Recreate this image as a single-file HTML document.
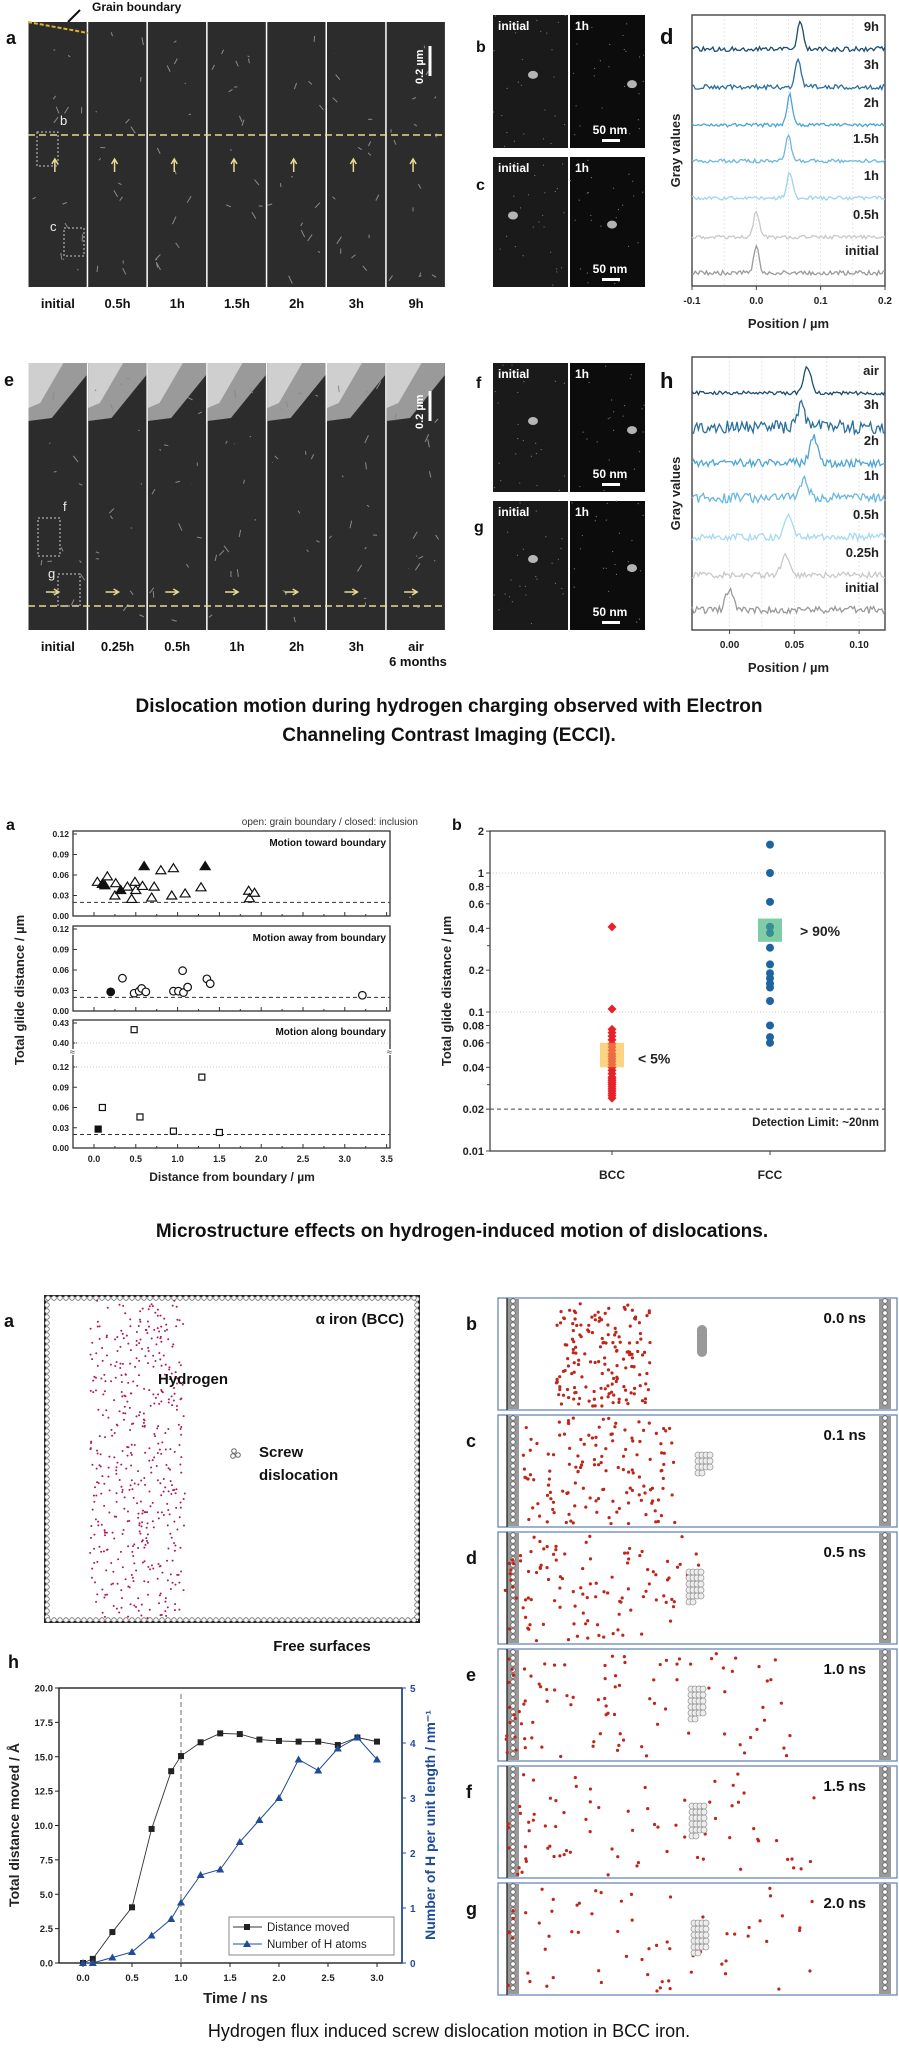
<!DOCTYPE html>
<html><head><meta charset="utf-8">
<style>
html,body{margin:0;padding:0;background:#fff;}
svg{display:block;font-family:"Liberation Sans",Arial,sans-serif;}
</style></head>
<body>
<svg id="fig" width="899" height="2058" viewBox="0 0 899 2058" xmlns="http://www.w3.org/2000/svg">
<!-- captions -->
<text x="449" y="712" text-anchor="middle" font-size="19" font-weight="bold" fill="#111">Dislocation motion during hydrogen charging observed with Electron</text>
<text x="449" y="741" text-anchor="middle" font-size="19" font-weight="bold" fill="#111">Channeling Contrast Imaging (ECCI).</text>
<text x="462" y="1237" text-anchor="middle" font-size="19" font-weight="bold" fill="#111">Microstructure effects on hydrogen-induced motion of dislocations.</text>
<text x="449" y="2037" text-anchor="middle" font-size="18" fill="#111">Hydrogen flux induced screw dislocation motion in BCC iron.</text>

<!-- section 1 static labels -->
<text x="92" y="11" font-size="12" font-weight="bold" fill="#111">Grain boundary</text>
<path d="M80,10 L68,22" stroke="#111" stroke-width="2"/>
<text x="6" y="44" font-size="18" font-weight="bold" fill="#111">a</text>
<text x="4" y="386" font-size="18" font-weight="bold" fill="#111">e</text>
<text x="476" y="52" font-size="16" font-weight="bold" fill="#111">b</text>
<text x="476" y="190" font-size="16" font-weight="bold" fill="#111">c</text>
<text x="476" y="388" font-size="16" font-weight="bold" fill="#111">f</text>
<text x="474" y="532" font-size="16" font-weight="bold" fill="#111">g</text>
<text x="660" y="44" font-size="22" font-weight="bold" fill="#111">d</text>
<text x="660" y="388" font-size="22" font-weight="bold" fill="#111">h</text>

<!-- section 2 static -->
<text x="6" y="830" font-size="16" font-weight="bold" fill="#111">a</text>
<text x="418" y="825" font-size="10" fill="#333" text-anchor="end">open: grain boundary / closed: inclusion</text>
<text x="452" y="830" font-size="16" font-weight="bold" fill="#111">b</text>

<!-- section 3 static -->
<text x="4" y="1327" font-size="18" font-weight="bold" fill="#111">a</text>
<text x="8" y="1668" font-size="18" font-weight="bold" fill="#111">h</text>
<text x="322" y="1651" text-anchor="middle" font-size="15" font-weight="bold" fill="#111">Free surfaces</text>

<g id="layer"></g>
</svg>

<script>
var NS='http://www.w3.org/2000/svg';
var layer=document.getElementById('layer');
function mk(tag,attrs,parent){var e=document.createElementNS(NS,tag);for(var k in attrs)e.setAttribute(k,attrs[k]);(parent||layer).appendChild(e);return e;}
function txt(s,attrs,parent){var e=mk('text',attrs,parent);e.textContent=s;return e;}
var seed=12345;
function rnd(){seed|=0;seed=seed+0x6D2B79F5|0;var t=Math.imul(seed^seed>>>15,1|seed);t=t+Math.imul(t^t>>>7,61|t)^t;return((t^t>>>14)>>>0)/4294967296;}

/* ---------- Section 1 micrographs ---------- */
var topTimes=['initial','0.5h','1h','1.5h','2h','3h','9h'];
var botTimes=['initial','0.25h','0.5h','1h','2h','3h','air'];
function micro(x,y,w,h,bright,name){
  var g=mk('g',{});
  
  
  mk('rect',{x:x,y:y,width:w,height:h,fill:'#2c2c2c'},g);
  if(bright){mk('polygon',{points:(x)+','+(y)+' '+(x+w)+','+(y)+' '+(x+w)+','+(y+12)+' '+(x+w*0.4)+','+(y+55)+' '+x+','+(y+58),fill:'#9a9a9a'},g);
             mk('polygon',{points:(x)+','+(y)+' '+(x+w*0.6)+','+(y)+' '+(x+w*0.2)+','+(y+40)+' '+x+','+(y+45),fill:'#cfcfcf'},g);}
  for(var i=0;i<14;i++){var sx=x+4+rnd()*(w-8),sy=y+10+rnd()*(h-20);
    mk('path',{d:'M'+sx+','+sy+' l'+(rnd()*10-5)+','+(rnd()*10-2),stroke:'#8a8a8a','stroke-width':1,fill:'none'},g);}
  return g;
}
var pw=59.7;
for(var i=0;i<7;i++){
  var x=28+i*pw;
  micro(x+0.5,22,pw-1.5,265,false,'ecci-image-'+topTimes[i]);
  var a=mk('path',{d:'M'+(x+pw*0.45)+',172 l0,-12 m-3,4 l3,-5 l3,5',stroke:'#e8d890','stroke-width':1.5,fill:'none'});
  
  
  var t=txt(topTimes[i],{x:x+pw/2,y:308,'text-anchor':'middle','font-size':13,'font-weight':'bold',fill:'#111'});
  
  
  micro(x+0.5,363,pw-1.5,267,true,'ecci-image-e-'+botTimes[i]);
  var a2=mk('path',{d:'M'+(x+pw*0.3)+',592 l12,0 m-4,-3 l5,3 l-5,3',stroke:'#e8d890','stroke-width':1.5,fill:'none'});
  
  
  var t2=txt(botTimes[i],{x:x+pw/2,y:651,'text-anchor':'middle','font-size':13,'font-weight':'bold',fill:'#111'});
  
  
}
var m6=txt('6 months',{x:418,y:666,'text-anchor':'middle','font-size':13,'font-weight':'bold',fill:'#111'});


var gb=mk('path',{d:'M28,22 L88,33',stroke:'#e0b030','stroke-width':2,'stroke-dasharray':'4,2'});


var dl1=mk('line',{x1:28,y1:135,x2:446,y2:135,stroke:'#e8d890','stroke-width':1.5,'stroke-dasharray':'7,4'});


var dl2=mk('line',{x1:28,y1:606,x2:446,y2:606,stroke:'#e8d890','stroke-width':1.5,'stroke-dasharray':'7,4'});


[[37,132,21,34,'inset-box-b'],[64,228,20,28,'inset-box-c'],[38,518,22,38,'inset-box-f'],[58,574,22,32,'inset-box-g']].forEach(function(b){
  var r=mk('rect',{x:b[0],y:b[1],width:b[2],height:b[3],fill:'none',stroke:'#ccc','stroke-width':1,'stroke-dasharray':'2,2'});
  
  
});
[['b',60,125],['c',50,231],['f',63,511],['g',48,578]].forEach(function(l){
  var t=txt(l[0],{x:l[1],y:l[2],'font-size':13,fill:'#eee'});
  
  
});
// scale bars
[[420,50,'0.2 µm'],[420,395,'0.2 µm']].forEach(function(s){
  var l=mk('line',{x1:s[0]+10,y1:s[1]-4,x2:s[0]+10,y2:s[1]+26,stroke:'#fff','stroke-width':3});
  
  
  var t=txt(s[2],{x:0,y:0,'font-size':11,'font-weight':'bold',fill:'#fff',transform:'translate('+(s[0]+3)+','+(s[1]+34)+') rotate(-90)'});
  
  
});
// b,c,f,g insets
[['b',15,133],['c',157,130],['f',363,129],['g',501,129]].forEach(function(p){
  ['initial','1h'].forEach(function(lbl,j){
    var x=493+j*77,w=75;
    var g=mk('g',{});
    
    
    mk('rect',{x:x,y:p[1],width:w,height:p[2],fill:j?'#0c0c0c':'#1a1a1a'},g);
    for(var k=0;k<25;k++)mk('circle',{cx:x+rnd()*w,cy:p[1]+rnd()*p[2],r:0.6,fill:'#777'},g);
    mk('ellipse',{cx:x+(j?62:40)-(p[0]=='c'?20:0),cy:p[1]+p[2]*(j?0.52:0.45),rx:5,ry:4,fill:'#ddd',opacity:0.8},g);
    txt(lbl,{x:x+5,y:p[1]+15,'font-size':12,'font-weight':'bold',fill:'#fff'},g);
    if(j){txt('50 nm',{x:x+40,y:p[1]+p[2]-14,'text-anchor':'middle','font-size':12,'font-weight':'bold',fill:'#fff'},g);
          mk('rect',{x:x+32,y:p[1]+p[2]-9,width:18,height:3,fill:'#fff'},g);}
  });
});

/* ---------- Section 1 line-profile charts d & h ---------- */
var dLabels=['9h','3h','2h','1.5h','1h','0.5h','initial'];
var dPeaks=[0.068,0.065,0.052,0.05,0.052,0.0,0.0];
var dPeakHeights=[28,30,30,26,26,26,26];
var dColors=['#1d4c70','#2a6f9e','#4ea5d2','#6ab8df','#9ed4ef','#c9c9c9','#9a9a9a'];
var dBase=[49,87,125,161,198,237,273];
var dTicks=['-0.1','0.0','0.1','0.2'];
var hLabels=['air','3h','2h','1h','0.5h','0.25h','initial'];
var hPeaks=[0.06,0.055,0.065,0.058,0.045,0.043,0.0];
var hPeakHeights=[26,22,26,20,24,22,22];
var hColors=['#1d4c70','#2a6f9e','#4ea5d2','#6ab8df','#a7daf0','#c9c9c9','#9a9a9a'];
var hBase=[393,427,463,498,537,575,610];
var hTicks=['0.00','0.05','0.10'];
var hTickVals=[0,0.05,0.10];

function profileChart(opt){
  var X0=692,X1=885;
  var g=mk('g',{});
  
  
  function xs(v){return X0+(v-opt.xmin)/(opt.xmax-opt.xmin)*(X1-X0);}
  // grid
  opt.grid.forEach(function(v){mk('line',{x1:xs(v),y1:opt.top,x2:xs(v),y2:opt.bot,stroke:'#ddd','stroke-width':0.7,'stroke-dasharray':'2,2'},g);});
  mk('rect',{x:X0,y:opt.top,width:X1-X0,height:opt.bot-opt.top,fill:'none',stroke:'#444','stroke-width':1.4},g);
  for(var i=0;i<opt.labels.length;i++){
    var d='',b=opt.base[i];
    for(var k=0;k<=120;k++){
      var v=opt.xmin+(opt.xmax-opt.xmin)*k/120;
      var dv=(v-opt.peaks[i])/(opt.width);
      var y=b-opt.heights[i]*Math.exp(-dv*dv)-(rnd()*6-3)*opt.noise[i];
      d+=(k?'L':'M')+xs(v).toFixed(1)+','+y.toFixed(1);
    }
    var p=mk('path',{d:d,fill:'none',stroke:opt.colors[i],'stroke-width':1.3},g);
    
    
    var t=txt(opt.labels[i],{x:X1-6,y:b-18,'text-anchor':'end','font-size':13,'font-weight':'bold',fill:'#222'},g);
    
    
  }
  for(var j=0;j<opt.ticks.length;j++){
    var tx=xs(opt.tickVals[j]);
    mk('line',{x1:tx,y1:opt.bot,x2:tx,y2:opt.bot+4,stroke:'#444'},g);
    var tl=txt(opt.ticks[j],{x:tx,y:opt.bot+18,'text-anchor':'middle','font-size':10,'font-weight':'bold',fill:'#222'},g);
    
    
  }
  var xt=txt('Position / µm',{x:(X0+X1)/2,y:opt.bot+42,'text-anchor':'middle','font-size':13,'font-weight':'bold',fill:'#222'},g);
  
  
  var yt=txt('Gray values',{x:0,y:0,'text-anchor':'middle','font-size':13,'font-weight':'bold',fill:'#222',transform:'translate(680,'+((opt.top+opt.bot)/2)+') rotate(-90)'},g);
  
  
}
profileChart({name:'chart-d-profiles',top:15,bot:286,xmin:-0.1,xmax:0.2,labels:dLabels,peaks:dPeaks,heights:dPeakHeights,colors:dColors,base:dBase,ticks:dTicks,tickVals:[-0.1,0,0.1,0.2],grid:[-0.05,0,0.05,0.1,0.15],width:0.006,noise:[0.8,0.8,0.6,0.6,0.6,0.6,0.8]});
profileChart({name:'chart-h-profiles',top:357,bot:630,xmin:-0.029,xmax:0.12,labels:hLabels,peaks:hPeaks,heights:hPeakHeights,colors:hColors,base:hBase,ticks:hTicks,tickVals:hTickVals,grid:[0,0.025,0.05,0.075,0.1],width:0.004,noise:[0.6,2.2,1.4,1.6,1.2,1,1.2]});

/* ---------- Section 2 chart a ---------- */
var xTickLabelsA=['0.0','0.5','1.0','1.5','2.0','2.5','3.0','3.5'];
var towardOpenX=[0.04,0.16,0.26,0.25,0.40,0.45,0.49,0.50,0.58,0.69,0.72,0.80,0.93,0.95,1.09,1.28,1.85,1.86,1.92];
var towardOpenY=[0.050,0.058,0.048,0.030,0.043,0.025,0.050,0.038,0.044,0.027,0.043,0.067,0.030,0.070,0.033,0.042,0.037,0.026,0.034];
var towardClosedX=[0.10,0.13,0.32,0.60,1.33];
var towardClosedY=[0.047,0.045,0.038,0.073,0.073];
var awayOpenX=[0.34,0.48,0.54,0.57,0.62,0.95,1.01,1.06,1.07,1.12,1.35,1.39,3.21];
var awayOpenY=[0.048,0.026,0.029,0.033,0.028,0.029,0.029,0.059,0.027,0.035,0.047,0.040,0.023];
var awayClosedX=[0.20];
var awayClosedY=[0.028];
var alongOpenX=[0.10,0.48,0.55,0.95,1.29,1.50];
var alongOpenY=[0.060,0.420,0.046,0.025,0.105,0.023];
var alongClosedX=[0.05];
var alongClosedY=[0.028];
var yTicksLow=[0,0.03,0.06,0.09,0.12];
var yTicksHigh=[0.40,0.43];

(function(){
  var X0=73,X1=390;
  function xs(v){return 94+v*83.6;}
  var panels=[
    {name:'panel-toward-boundary',top:831,bot:916,title:'Motion toward boundary',shape:'tri',ox:towardOpenX,oy:towardOpenY,cx:towardClosedX,cy:towardClosedY},
    {name:'panel-away-from-boundary',top:926,bot:1011,title:'Motion away from boundary',shape:'circ',ox:awayOpenX,oy:awayOpenY,cx:awayClosedX,cy:awayClosedY},
    {name:'panel-along-boundary',top:1020,bot:1148,title:'Motion along boundary',shape:'sq',ox:alongOpenX,oy:alongOpenY,cx:alongClosedX,cy:alongClosedY,broken:true}
  ];
  panels.forEach(function(P){
    var g=mk('g',{});
    
    
    function ys(v){
      if(P.broken){ if(v>0.2) return 1043-(v-0.40)/0.03*20; return 1148-v/0.12*81; }
      return P.bot-v/0.12*82;
    }
    mk('rect',{x:X0,y:P.top,width:X1-X0,height:P.bot-P.top,fill:'#fff',stroke:'#333','stroke-width':1.3},g);
    // y ticks
    yTicksLow.forEach(function(v){
      mk('line',{x1:X0,y1:ys(v),x2:X0+4,y2:ys(v),stroke:'#333'},g);
      var t=txt(v.toFixed(2),{x:X0-4,y:ys(v)+3,'text-anchor':'end','font-size':8.5,'font-weight':'bold',fill:'#222'},g);
      
      
    });
    if(P.broken){
      yTicksHigh.forEach(function(v){
        mk('line',{x1:X0,y1:ys(v),x2:X0+4,y2:ys(v),stroke:'#333'},g);
        var t=txt(v.toFixed(2),{x:X0-4,y:ys(v)+3,'text-anchor':'end','font-size':8.5,'font-weight':'bold',fill:'#222'},g);
        
        
      });
      mk('rect',{x:X0-3,y:1049,width:X1-X0+6,height:6,fill:'#fff'},g);
      mk('line',{x1:X0+2,y1:ys(0.12),x2:X1,y2:ys(0.12),stroke:'#ccc','stroke-dasharray':'1,2'},g);
      mk('line',{x1:X0+2,y1:ys(0.40),x2:X1,y2:ys(0.40),stroke:'#ccc','stroke-dasharray':'1,2'},g);
      txt('≈',{x:X0-3,y:1055,'font-size':9,fill:'#333'},g);
      txt('≈',{x:X1-3,y:1055,'font-size':9,fill:'#333'},g);
    }
    // x ticks
    for(var k=0;k<=14;k++){var v=k*0.25;mk('line',{x1:xs(v),y1:P.bot,x2:xs(v),y2:P.bot-(k%2?2:4),stroke:'#333'},g);}
    // detection limit
    mk('line',{x1:X0,y1:ys(0.02),x2:X1,y2:ys(0.02),stroke:'#333','stroke-dasharray':'4,3'},g);
    var tt=txt(P.title,{x:X1-4,y:P.top+15,'text-anchor':'end','font-size':10,'font-weight':'bold',fill:'#111'},g);
    
    
    function mark(x,y,filled){
      var cx=xs(x),cy=ys(y),f=filled?'#111':'#fff',e;
      if(P.shape=='tri')e=mk('polygon',{points:cx+','+(cy-4.5)+' '+(cx-5)+','+(cy+3.5)+' '+(cx+5)+','+(cy+3.5),fill:f,stroke:'#111','stroke-width':1.2},g);
      else if(P.shape=='circ')e=mk('circle',{cx:cx,cy:cy,r:3.8,fill:f,stroke:'#111','stroke-width':1.2},g);
      else e=mk('rect',{x:cx-3,y:cy-3,width:6,height:6,fill:f,stroke:'#111','stroke-width':1.2},g);
      
      
    }
    for(var i=0;i<P.ox.length;i++)mark(P.ox[i],P.oy[i],false);
    for(var i=0;i<P.cx.length;i++)mark(P.cx[i],P.cy[i],true);
  });
  xTickLabelsA.forEach(function(l){
    var t=txt(l,{x:xs(parseFloat(l)),y:1162,'text-anchor':'middle','font-size':9,'font-weight':'bold',fill:'#222'});
    
    
  });
  var xt=txt('Distance from boundary / µm',{x:232,y:1181,'text-anchor':'middle','font-size':12,'font-weight':'bold',fill:'#222'});
  
  
  var yt=txt('Total glide distance / µm',{x:0,y:0,'text-anchor':'middle','font-size':13,'font-weight':'bold',fill:'#222',transform:'translate(24,990) rotate(-90)'});
  
  
})();

/* ---------- Section 2 chart b ---------- */
var bCategories=['BCC','FCC'];
var bccValues=[0.41,0.105,0.075,0.071,0.067,0.063,0.059,0.056,0.053,0.05,0.048,0.046,0.044,0.042,0.04,0.038,0.036,0.034,0.033,0.032,0.031,0.03,0.029,0.028,0.027,0.026,0.025,0.024];
var fccValues=[1.6,1.0,0.62,0.41,0.37,0.29,0.22,0.19,0.175,0.16,0.15,0.12,0.08,0.066,0.06];
var bYTicks=['2','1','0.8','0.6','0.4','0.2','0.1','0.08','0.06','0.04','0.02','0.01'];
var bccBand=[0.04,0.06];
var fccBand=[0.32,0.47];
var detectionLimit=0.02;
(function(){
  var X0=490,X1=885,T=831,B=1151;
  function ys(v){return 873-Math.log10(v)*139;}
  var catX=[612,770];
  var g=mk('g',{});
  
  
  mk('line',{x1:X0,y1:ys(1),x2:X1,y2:ys(1),stroke:'#ccc','stroke-dasharray':'1,2'},g);
  mk('line',{x1:X0,y1:ys(0.1),x2:X1,y2:ys(0.1),stroke:'#ccc','stroke-dasharray':'1,2'},g);
  mk('line',{x1:X0,y1:ys(detectionLimit),x2:X1,y2:ys(detectionLimit),stroke:'#444','stroke-dasharray':'4,3'},g);
  mk('rect',{x:X0,y:T,width:X1-X0,height:B-T,fill:'none',stroke:'#444','stroke-width':1.3},g);
  bYTicks.forEach(function(l){
    var v=parseFloat(l),y=ys(v);
    mk('line',{x1:X0,y1:y,x2:X0-4,y2:y,stroke:'#444'},g);
    var t=txt(l,{x:X0-6,y:y+4,'text-anchor':'end','font-size':11,'font-weight':'bold',fill:'#222'},g);
    
    
  });
  [0.3,0.03].forEach(function(v){mk('line',{x1:X0,y1:ys(v),x2:X0-3,y2:ys(v),stroke:'#444'},g);});
  bCategories.forEach(function(c,i){
    mk('line',{x1:catX[i],y1:B,x2:catX[i],y2:B+4,stroke:'#444'},g);
    var t=txt(c,{x:catX[i],y:B+28,'text-anchor':'middle','font-size':12,'font-weight':'bold',fill:'#222'},g);
    
    
  });
  var bb=mk('rect',{x:catX[0]-12,y:ys(bccBand[1]),width:24,height:ys(bccBand[0])-ys(bccBand[1]),fill:'#f8c860',opacity:0.6},g);
  
  
  var fb=mk('rect',{x:catX[1]-12,y:ys(fccBand[1]),width:24,height:ys(fccBand[0])-ys(fccBand[1]),fill:'#5cbf8c',opacity:0.6},g);
  
  
  bccValues.forEach(function(v){
    var y=ys(v),x=catX[0];
    var d=mk('polygon',{points:x+','+(y-4.5)+' '+(x+4.5)+','+y+' '+x+','+(y+4.5)+' '+(x-4.5)+','+y,fill:'#e8202a'},g);
    
    
  });
  fccValues.forEach(function(v){
    var c=mk('circle',{cx:catX[1],cy:ys(v),r:4,fill:'#1e64a0'},g);
    
    
  });
  mk('rect',{x:catX[0]-12,y:ys(bccBand[1]),width:24,height:ys(bccBand[0])-ys(bccBand[1]),fill:'#f8c860',opacity:0.45},g);
  mk('rect',{x:catX[1]-12,y:ys(fccBand[1]),width:24,height:ys(fccBand[0])-ys(fccBand[1]),fill:'#5cbf8c',opacity:0.45},g);
  var l1=txt('< 5%',{x:catX[0]+26,y:ys(0.047)+6,'font-size':14,'font-weight':'bold',fill:'#222'},g);
  
  
  var l2=txt('> 90%',{x:catX[1]+30,y:ys(0.39)+6,'font-size':14,'font-weight':'bold',fill:'#222'},g);
  
  
  var dt=txt('Detection Limit: ~20nm',{x:X1-6,y:ys(0.02)+17,'text-anchor':'end','font-size':11.5,'font-weight':'bold',fill:'#222'},g);
  
  
  var yt=txt('Total glide distance / µm',{x:0,y:0,'text-anchor':'middle','font-size':13,'font-weight':'bold',fill:'#222',transform:'translate(451,'+((T+B)/2)+') rotate(-90)'},g);
  
  
})();

/* ---------- Section 3 simulation panels ---------- */
function atomColumn(x,y1,y2,parent,horiz){
  var n=Math.floor((horiz?(y2-y1):(y2-y1))/6);
  for(var i=0;i<n;i++){
    if(horiz)mk('circle',{cx:y1+i*6+3,cy:x,r:2.3,fill:'#fff',stroke:'#666','stroke-width':0.8},parent);
    else mk('circle',{cx:x,cy:y1+i*6+3,r:2.3,fill:'#fff',stroke:'#666','stroke-width':0.8},parent);
  }
}
(function(){
  var g=mk('g',{});
  
  
  mk('rect',{x:45,y:1296,width:374,height:326,fill:'#fff',stroke:'#222','stroke-width':2},g);
  atomColumn(47,1296,1622,g,false);atomColumn(417,1296,1622,g,false);
  atomColumn(1298,45,419,g,true);atomColumn(1620,45,419,g,true);
  for(var i=0;i<480;i++){
    mk('circle',{cx:90+rnd()*95,cy:1300+rnd()*318,r:1,fill:'#b0185a'},g);
  }
  txt('α iron (BCC)',{x:404,y:1324,'text-anchor':'end','font-size':15,'font-weight':'bold',fill:'#111'},g);
  txt('Hydrogen',{x:158,y:1384,'font-size':15,'font-weight':'bold',fill:'#111'},g);
  txt('Screw',{x:259,y:1457,'font-size':15,'font-weight':'bold',fill:'#111'},g);
  txt('dislocation',{x:259,y:1480,'font-size':15,'font-weight':'bold',fill:'#111'},g);
  mk('circle',{cx:234,cy:1451,r:2.3,fill:'#fff',stroke:'#666'},g);
  mk('circle',{cx:238,cy:1455,r:2.3,fill:'#fff',stroke:'#666'},g);
  mk('circle',{cx:233,cy:1456,r:2.3,fill:'#fff',stroke:'#666'},g);
})();
var simTimes=['0.0 ns','0.1 ns','0.5 ns','1.0 ns','1.5 ns','2.0 ns'];
var simLetters=['b','c','d','e','f','g'];
var simSpreadL=[555,522,505,505,508,508];
var simSpreadR=[650,675,700,790,820,840];
var simCount=[160,140,110,95,75,65];
var simDisX=[702,704,695,697,698,700];
simTimes.forEach(function(tm,i){
  var y=1298+i*117,h=112;
  var g=mk('g',{});
  
  
  mk('rect',{x:498,y:y,width:399,height:h,fill:'#fff',stroke:'#5a7fb0','stroke-width':1.2},g);
  mk('rect',{x:507,y:y+1,width:12,height:h-2,fill:'#999'},g);
  mk('rect',{x:879,y:y+1,width:12,height:h-2,fill:'#999'},g);
  atomColumn(513,y,y+h,g,false);atomColumn(885,y,y+h,g,false);
  mk('line',{x1:507,y1:y,x2:507,y2:y+h,stroke:'#222','stroke-width':1.3},g);
  var L=simSpreadL[i],R=simSpreadR[i];
  for(var k=0;k<simCount[i];k++){
    var u=rnd(),x=(i<2)?L+rnd()*(R-L):L+Math.pow(u,1.4)*(R-L);
    mk('circle',{cx:x,cy:y+3+rnd()*(h-6),r:1.6,fill:'#c0251a'},g);
  }
  var dx=simDisX[i];
  if(i==0){mk('rect',{x:dx-5,y:y+27,width:10,height:32,rx:5,fill:'#999'},g);}
  else{for(var r=0;r<(i<2?14:22);r++){mk('circle',{cx:dx-6+(r%4)*4,cy:y+40+Math.floor(r/4)*6,r:3,fill:'#eee',stroke:'#999','stroke-width':0.8},g);}}
  var t=txt(tm,{x:866,y:y+25,'text-anchor':'end','font-size':15,'font-weight':'bold',fill:'#111'},g);
  
  
  var lt=txt(simLetters[i],{x:466,y:y+32,'font-size':18,'font-weight':'bold',fill:'#111'});
  
  
});

/* ---------- Section 3 chart h ---------- */
var hTime=[0,0.1,0.3,0.5,0.7,0.9,1.0,1.2,1.4,1.6,1.8,2.0,2.2,2.4,2.6,2.8,3.0];
var hDistance=[0,0.3,2.25,4.05,9.75,13.95,15.05,16.05,16.7,16.65,16.25,16.15,16.1,16.1,15.85,16.4,16.1];
var hAtoms=[0,0,0.1,0.2,0.5,0.8,1.1,1.6,1.7,2.2,2.6,3.0,3.7,3.5,3.9,4.1,3.7];
var hXTicks=['0.0','0.5','1.0','1.5','2.0','2.5','3.0'];
var hYTicks=['0.0','2.5','5.0','7.5','10.0','12.5','15.0','17.5','20.0'];
var hY2Ticks=['0','1','2','3','4','5'];
(function(){
  var X0=59,X1=402,T=1688,B=1963;
  function xs(v){return 83+v*98;}
  function ys(v){return B-v/20*(B-T);}
  function ys2(v){return B-v/5*(B-T);}
  var g=mk('g',{});
  
  
  mk('rect',{x:X0,y:T,width:X1-X0,height:B-T,fill:'#fff',stroke:'#222','stroke-width':1.4},g);
  mk('line',{x1:X1,y1:T,x2:X1,y2:B,stroke:'#1f4b99','stroke-width':1.6},g);
  mk('line',{x1:xs(1),y1:T+6,x2:xs(1),y2:B,stroke:'#888','stroke-width':1.2,'stroke-dasharray':'5,3'},g);
  hYTicks.forEach(function(l){
    var y=ys(parseFloat(l));
    mk('line',{x1:X0,y1:y,x2:X0-4,y2:y,stroke:'#222'},g);
    var t=txt(l,{x:X0-6,y:y+3.5,'text-anchor':'end','font-size':9.5,'font-weight':'bold',fill:'#222'},g);
    
    
  });
  hY2Ticks.forEach(function(l){
    var y=ys2(parseFloat(l));
    mk('line',{x1:X1,y1:y,x2:X1+4,y2:y,stroke:'#1f4b99'},g);
    var t=txt(l,{x:X1+8,y:y+4,'font-size':10,'font-weight':'bold',fill:'#1f4b99'},g);
    
    
  });
  hXTicks.forEach(function(l){
    var x=xs(parseFloat(l));
    mk('line',{x1:x,y1:B,x2:x,y2:B+4,stroke:'#222'},g);
    var t=txt(l,{x:x,y:B+18,'text-anchor':'middle','font-size':9.5,'font-weight':'bold',fill:'#222'},g);
    
    
  });
  var p1='',p2='';
  hTime.forEach(function(t,i){p1+=(i?'L':'M')+xs(t)+','+ys(hDistance[i]);p2+=(i?'L':'M')+xs(t)+','+ys2(hAtoms[i]);});
  var l1=mk('path',{d:p1,fill:'none',stroke:'#333','stroke-width':0.9},g);
  
  
  var l2=mk('path',{d:p2,fill:'none',stroke:'#1f4b99','stroke-width':1},g);
  
  
  hTime.forEach(function(t,i){
    var s=mk('rect',{x:xs(t)-3,y:ys(hDistance[i])-3,width:6,height:6,fill:'#222'},g);
    
    
    var x=xs(t),y=ys2(hAtoms[i]);
    var tr=mk('polygon',{points:x+','+(y-4)+' '+(x-4)+','+(y+3)+' '+(x+4)+','+(y+3),fill:'#1f4b99'},g);
    
    
  });
  var lg=mk('g',{},g);
  
  
  mk('rect',{x:229,y:1917,width:165,height:38,fill:'#fff',stroke:'#888'},lg);
  mk('line',{x1:233,y1:1927,x2:262,y2:1927,stroke:'#333'},lg);
  mk('rect',{x:244,y:1924,width:6,height:6,fill:'#222'},lg);
  txt('Distance moved',{x:267,y:1931,'font-size':11.5,fill:'#222'},lg);
  mk('line',{x1:233,y1:1944,x2:262,y2:1944,stroke:'#1f4b99'},lg);
  mk('polygon',{points:'247,1940 243,1947 251,1947',fill:'#1f4b99'},lg);
  txt('Number of H atoms',{x:267,y:1948,'font-size':11.5,fill:'#222'},lg);
  var xt=txt('Time / ns',{x:(X0+X1)/2+5,y:2003,'text-anchor':'middle','font-size':15,'font-weight':'bold',fill:'#222'},g);
  
  
  var yt=txt('Total distance moved / Å',{x:0,y:0,'text-anchor':'middle','font-size':14,'font-weight':'bold',fill:'#222',transform:'translate(19,1825) rotate(-90)'},g);
  
  
  var y2=txt('Number of H per unit length / nm⁻¹',{x:0,y:0,'text-anchor':'middle','font-size':14,'font-weight':'bold',fill:'#1f4b99',transform:'translate(435,1825) rotate(-90)'},g);
  
  
})();
</script>
</body></html>
